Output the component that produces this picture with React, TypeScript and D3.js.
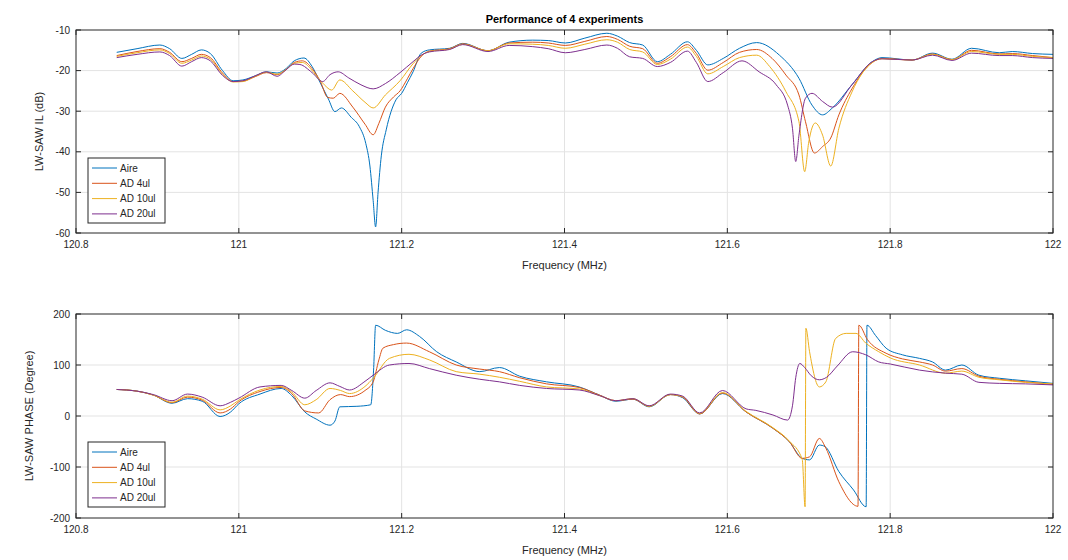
import React, { useRef, useEffect } from "react";
import * as d3 from "d3";

// series names + colours (matlab default order)
const seriesNames = ["Aire", "AD 4ul", "AD 10ul", "AD 20ul"];
const seriesColors = ["#0072BD", "#D95319", "#EDB120", "#7E2F8E"];

const xTicks = [120.8, 121, 121.2, 121.4, 121.6, 121.8, 122];
const ilTicks = [-60, -50, -40, -30, -20, -10];
const phaseTicks = [-200, -100, 0, 100, 200];

// insertion loss (dB), [freq MHz, value]
const ilAire = [
  [120.85, -15.5], [120.875, -14.6], [120.903, -13.7], [120.915, -14.6], [120.93, -17], [120.942, -16],
  [120.954, -14.9], [120.965, -15.8], [120.98, -20], [120.993, -22.5], [121.005, -22.3], [121.02, -21.3],
  [121.034, -20.3], [121.047, -20.6], [121.058, -19.5], [121.068, -17.6], [121.08, -16.9], [121.09, -19],
  [121.1, -23], [121.11, -27], [121.118, -30.1], [121.126, -29.2], [121.138, -31.5], [121.148, -33.8],
  [121.156, -38], [121.161, -43.5], [121.165, -52], [121.168, -58.5], [121.171, -50], [121.175, -41],
  [121.181, -34.6], [121.193, -27.2], [121.2, -25.6], [121.207, -23], [121.214, -20.3], [121.224, -15.7],
  [121.234, -14.9], [121.259, -14.5], [121.275, -13.3], [121.306, -15.1], [121.332, -13], [121.361, -12.5],
  [121.38, -12.6], [121.401, -13.2], [121.425, -12], [121.452, -10.8], [121.465, -11.5], [121.48, -13.1],
  [121.496, -13.7], [121.514, -17.8], [121.53, -16], [121.551, -12.9], [121.562, -15], [121.576, -18.6],
  [121.595, -17], [121.615, -14.5], [121.636, -13.1], [121.664, -16.2], [121.688, -21.9], [121.704, -28.5],
  [121.717, -30.9], [121.729, -29.2], [121.753, -23.5], [121.778, -17.8], [121.79, -16.8], [121.827, -17.4],
  [121.852, -15.7], [121.876, -17.2], [121.9, -14.5], [121.934, -15.6], [121.95, -15.3], [121.975, -15.8],
  [122, -16],
];
const ilAd4 = [
  [120.85, -16.3], [120.875, -15.3], [120.903, -14.6], [120.915, -15.5], [120.93, -17.8], [120.942, -17],
  [120.954, -16], [120.965, -16.8], [120.98, -20.6], [120.993, -22.7], [121.005, -22.6], [121.02, -21.5],
  [121.034, -20.5], [121.047, -21], [121.058, -19.8], [121.068, -18], [121.078, -17.6], [121.09, -19.5],
  [121.1, -22.6], [121.109, -26.6], [121.116, -26.8], [121.124, -25.6], [121.14, -29], [121.155, -33.2],
  [121.165, -35.8], [121.172, -33], [121.18, -29], [121.19, -26.5], [121.198, -25], [121.207, -22],
  [121.214, -19.5], [121.224, -16.5], [121.234, -15.2], [121.259, -14.6], [121.275, -13.4], [121.306, -15.1],
  [121.332, -13.2], [121.361, -13], [121.38, -13.2], [121.401, -13.8], [121.425, -12.8], [121.452, -11.6],
  [121.465, -12.3], [121.48, -14], [121.496, -14.6], [121.514, -18.2], [121.53, -16.6], [121.551, -13.6],
  [121.562, -15.8], [121.576, -19.9], [121.595, -18], [121.615, -15.5], [121.636, -14.8], [121.655, -17],
  [121.672, -21.1], [121.688, -26], [121.696, -32.6], [121.707, -40.3], [121.717, -38.7], [121.727, -36.6],
  [121.737, -30.9], [121.753, -24.5], [121.778, -18], [121.79, -17], [121.827, -17.4], [121.852, -15.9],
  [121.876, -17.3], [121.9, -15], [121.934, -15.9], [121.95, -15.8], [121.975, -16.3], [122, -16.8],
];
const ilAd10 = [
  [120.85, -16.5], [120.875, -15.6], [120.903, -14.9], [120.915, -15.8], [120.93, -18.2], [120.942, -17.4],
  [120.954, -16.4], [120.965, -17.2], [120.98, -20.9], [120.993, -22.8], [121.005, -22.7], [121.02, -21.4],
  [121.034, -20.4], [121.047, -20.9], [121.058, -19.7], [121.068, -18.2], [121.078, -18], [121.088, -19.5],
  [121.096, -21.5], [121.105, -23.5], [121.114, -24.8], [121.124, -22.3], [121.14, -25], [121.155, -27.8],
  [121.165, -29.2], [121.18, -26], [121.198, -22.5], [121.214, -18.3], [121.224, -16.3], [121.234, -15.3],
  [121.259, -14.7], [121.275, -13.5], [121.306, -15.1], [121.332, -13.4], [121.361, -13.5], [121.38, -13.8],
  [121.401, -14.5], [121.425, -13.5], [121.452, -12.4], [121.465, -13], [121.48, -14.8], [121.496, -15.4],
  [121.514, -18.5], [121.53, -17.2], [121.551, -14.2], [121.562, -16.5], [121.576, -20.8], [121.595, -19],
  [121.615, -16.8], [121.636, -16.2], [121.652, -19], [121.672, -25.2], [121.688, -32.6], [121.695, -44.9],
  [121.7, -37.6], [121.708, -32.9], [121.717, -35.9], [121.727, -43.5], [121.737, -34.2], [121.753, -25.3],
  [121.778, -18], [121.79, -17.1], [121.827, -17.4], [121.852, -16], [121.876, -17.3], [121.9, -15.3],
  [121.934, -16], [121.95, -16], [121.975, -16.5], [122, -16.8],
];
const ilAd20 = [
  [120.85, -16.8], [120.875, -16], [120.903, -15.4], [120.915, -16.3], [120.93, -18.9], [120.942, -17.8],
  [120.954, -16.8], [120.965, -17.6], [120.98, -21.2], [120.993, -22.7], [121.005, -22.5], [121.02, -21.3],
  [121.034, -20.3], [121.047, -21.4], [121.058, -19.8], [121.068, -18.4], [121.075, -18.5], [121.09, -20.5],
  [121.103, -22.7], [121.112, -21], [121.122, -20.3], [121.135, -21.8], [121.15, -23.5], [121.165, -24.5],
  [121.18, -23.2], [121.198, -20.5], [121.214, -17.8], [121.224, -16.2], [121.234, -15.4], [121.259, -14.8],
  [121.275, -13.6], [121.306, -15.3], [121.332, -13.8], [121.361, -14.1], [121.38, -14.6], [121.401, -15.6],
  [121.425, -14.8], [121.452, -13.7], [121.465, -14.5], [121.48, -16.6], [121.496, -17], [121.514, -19],
  [121.53, -18], [121.551, -15.2], [121.562, -18], [121.576, -22.7], [121.595, -20.5], [121.618, -17.6],
  [121.639, -20.3], [121.66, -23.5], [121.674, -28.5], [121.68, -34.2], [121.684, -42.4], [121.688, -35.9],
  [121.696, -26.8], [121.704, -25.6], [121.717, -27.6], [121.729, -29], [121.753, -23.5], [121.778, -17.8],
  [121.79, -17.1], [121.827, -17.4], [121.852, -16.2], [121.876, -17.5], [121.9, -15.7], [121.934, -16.3],
  [121.95, -16.3], [121.975, -16.8], [122, -17],
];

// phase (degree), [freq MHz, value]
const phAire = [
  [120.85, 52], [120.874, 49], [120.895, 41], [120.918, 25], [120.937, 34], [120.955, 29], [120.977, -1],
  [120.99, 8], [121.0, 24], [121.026, 43], [121.052, 54], [121.065, 40], [121.081, 8], [121.095, -6],
  [121.112, -18], [121.118, -10], [121.124, 18], [121.145, 19], [121.162, 22], [121.1655, 90], [121.168, 178],
  [121.18, 168], [121.195, 162], [121.206, 169], [121.222, 156], [121.243, 126], [121.267, 106], [121.296, 87],
  [121.32, 95], [121.345, 78], [121.378, 67], [121.418, 57], [121.443, 41], [121.463, 29], [121.484, 33],
  [121.504, 18], [121.53, 42], [121.545, 36], [121.566, 4], [121.594, 44], [121.623, 8], [121.656, -24],
  [121.676, -50], [121.692, -83], [121.701, -86], [121.713, -57], [121.72, -60], [121.737, -109], [121.755, -145],
  [121.7705, -178], [121.7715, 178], [121.782, 158], [121.795, 133], [121.815, 120], [121.836, 113], [121.852, 106],
  [121.868, 90], [121.888, 100], [121.909, 80], [121.934, 74], [121.966, 69], [122, 64],
];
const phAd4 = [
  [120.85, 52], [120.874, 49], [120.895, 41], [120.918, 26], [120.937, 37], [120.955, 31], [120.977, 6],
  [120.99, 14], [121.0, 28], [121.026, 48], [121.052, 56], [121.065, 44], [121.081, 10], [121.098, 6],
  [121.112, 32], [121.125, 42], [121.136, 38], [121.155, 50], [121.165, 67], [121.172, 110], [121.177, 133],
  [121.19, 140], [121.206, 143], [121.234, 126], [121.267, 100], [121.296, 92], [121.32, 87], [121.345, 75],
  [121.378, 63], [121.418, 56], [121.443, 41], [121.463, 30], [121.484, 33], [121.504, 19], [121.53, 42],
  [121.545, 37], [121.566, 4], [121.594, 45], [121.623, 8], [121.656, -24], [121.676, -50], [121.692, -83],
  [121.701, -80], [121.713, -44], [121.721, -63], [121.737, -129], [121.7605, -177], [121.7615, 178],
  [121.772, 150], [121.795, 123], [121.815, 112], [121.836, 106], [121.852, 100], [121.868, 88], [121.888, 93],
  [121.909, 78], [121.934, 72], [121.966, 67], [122, 62],
];
const phAd10 = [
  [120.85, 52], [120.874, 49], [120.895, 41], [120.918, 27], [120.937, 39], [120.955, 33], [120.977, 12],
  [120.99, 20], [121.0, 31], [121.026, 51], [121.052, 58], [121.065, 47], [121.081, 22], [121.095, 32],
  [121.112, 54], [121.125, 50], [121.136, 44], [121.155, 58], [121.165, 74], [121.185, 113], [121.209, 121],
  [121.234, 110], [121.267, 87], [121.296, 82], [121.32, 76], [121.345, 68], [121.378, 57], [121.418, 53],
  [121.443, 40], [121.463, 30], [121.484, 34], [121.504, 19], [121.53, 42], [121.545, 38], [121.566, 5],
  [121.594, 46], [121.623, 9], [121.656, -23], [121.676, -49], [121.692, -85], [121.6955, -178], [121.6965, 172],
  [121.701, 126], [121.713, 57], [121.721, 67], [121.733, 152], [121.746, 162], [121.758, 162], [121.77, 143],
  [121.786, 126], [121.8, 114], [121.836, 100], [121.868, 84], [121.888, 88], [121.909, 76], [121.934, 71],
  [121.966, 66], [122, 63],
];
const phAd20 = [
  [120.85, 52], [120.874, 49], [120.895, 42], [120.918, 30], [120.937, 43], [120.955, 37], [120.977, 20],
  [120.99, 27], [121.0, 35], [121.026, 57], [121.052, 60], [121.065, 50], [121.081, 35], [121.095, 50],
  [121.112, 65], [121.124, 58], [121.136, 51], [121.155, 68], [121.165, 80], [121.185, 100], [121.209, 103],
  [121.234, 93], [121.267, 80], [121.296, 72], [121.32, 67], [121.345, 60], [121.378, 54], [121.418, 51],
  [121.443, 40], [121.463, 30], [121.484, 34], [121.504, 20], [121.53, 43], [121.545, 39], [121.566, 6],
  [121.594, 50], [121.623, 14], [121.635, 11], [121.656, 2], [121.674, -8], [121.68, 20], [121.684, 75],
  [121.689, 103], [121.695, 95], [121.703, 79], [121.713, 71], [121.722, 76], [121.735, 98], [121.754, 126],
  [121.77, 120], [121.786, 106], [121.8, 102], [121.836, 90], [121.868, 84], [121.888, 82], [121.909, 66],
  [121.934, 64], [121.966, 63], [122, 61],
];

const W = 1068;
const H = 560;
const FONT = "'Liberation Sans', Arial, sans-serif";

const App = () => {
  const svgRef = useRef(null);

  useEffect(() => {
    const svg = d3.select(svgRef.current);
    svg.selectAll("*").remove();

    const x = d3.scaleLinear().domain([120.8, 122]).range([76, 1053]);

    const panels = [
      {
        id: "il",
        y: d3.scaleLinear().domain([-60, -10]).range([233, 30]),
        ticks: ilTicks,
        data: [ilAire, ilAd4, ilAd10, ilAd20],
        ylabel: "LW-SAW IL (dB)",
        ylabelX: 43,
        legendTop: 158,
      },
      {
        id: "ph",
        y: d3.scaleLinear().domain([-200, 200]).range([518, 314]),
        ticks: phaseTicks,
        data: [phAire, phAd4, phAd10, phAd20],
        ylabel: "LW-SAW PHASE (Degree)",
        ylabelX: 33,
        legendTop: 442,
      },
    ];

    const x0 = x.range()[0];
    const x1 = x.range()[1];

    panels.forEach((p) => {
      const [yb, yt] = p.y.range();
      const g = svg.append("g");

      g.append("rect")
        .attr("x", x0)
        .attr("y", yt)
        .attr("width", x1 - x0)
        .attr("height", yb - yt)
        .attr("fill", "#fff");

      // grid
      g.append("g")
        .selectAll("line")
        .data(xTicks.slice(1, -1))
        .enter()
        .append("line")
        .attr("x1", (d) => x(d))
        .attr("x2", (d) => x(d))
        .attr("y1", yt)
        .attr("y2", yb)
        .attr("stroke", "#e3e3e3")
        .attr("stroke-width", 1);
      g.append("g")
        .selectAll("line")
        .data(p.ticks.slice(1, -1))
        .enter()
        .append("line")
        .attr("x1", x0)
        .attr("x2", x1)
        .attr("y1", (d) => p.y(d))
        .attr("y2", (d) => p.y(d))
        .attr("stroke", "#e3e3e3")
        .attr("stroke-width", 1);

      // clip
      svg
        .append("clipPath")
        .attr("id", "clip-" + p.id)
        .append("rect")
        .attr("x", x0)
        .attr("y", yt)
        .attr("width", x1 - x0)
        .attr("height", yb - yt);

      const line = d3
        .line()
        .x((d) => x(d[0]))
        .y((d) => p.y(d[1]))
        .curve(d3.curveMonotoneX);

      g.append("g")
        .attr("clip-path", `url(#clip-${p.id})`)
        .selectAll("path")
        .data(p.data)
        .enter()
        .append("path")
        .attr("d", (d) => line(d))
        .attr("fill", "none")
        .attr("stroke", (_, i) => seriesColors[i])
        .attr("stroke-width", 1)
        .attr("stroke-linejoin", "round");

      // box
      g.append("rect")
        .attr("x", x0)
        .attr("y", yt)
        .attr("width", x1 - x0)
        .attr("height", yb - yt)
        .attr("fill", "none")
        .attr("stroke", "#262626")
        .attr("stroke-width", 1);

      // inward ticks, all four sides
      const tk = 5;
      xTicks.forEach((t) => {
        g.append("line").attr("x1", x(t)).attr("x2", x(t)).attr("y1", yb).attr("y2", yb - tk).attr("stroke", "#262626");
        g.append("line").attr("x1", x(t)).attr("x2", x(t)).attr("y1", yt).attr("y2", yt + tk).attr("stroke", "#262626");
        g.append("text")
          .attr("x", x(t))
          .attr("y", yb + 15)
          .attr("text-anchor", "middle")
          .attr("font-family", FONT)
          .attr("font-size", 10)
          .attr("fill", "#262626")
          .text(+t.toFixed(1) + "");
      });
      p.ticks.forEach((t) => {
        g.append("line").attr("x1", x0).attr("x2", x0 + tk).attr("y1", p.y(t)).attr("y2", p.y(t)).attr("stroke", "#262626");
        g.append("line").attr("x1", x1).attr("x2", x1 - tk).attr("y1", p.y(t)).attr("y2", p.y(t)).attr("stroke", "#262626");
        g.append("text")
          .attr("x", x0 - 6)
          .attr("y", p.y(t) + 3.5)
          .attr("text-anchor", "end")
          .attr("font-family", FONT)
          .attr("font-size", 10)
          .attr("fill", "#262626")
          .text(t);
      });

      // axis labels
      g.append("text")
        .attr("x", (x0 + x1) / 2)
        .attr("y", yb + 36)
        .attr("text-anchor", "middle")
        .attr("font-family", FONT)
        .attr("font-size", 11)
        .attr("fill", "#262626")
        .text("Frequency (MHz)");
      g.append("text")
        .attr("transform", `translate(${p.ylabelX},${(yt + yb) / 2}) rotate(-90)`)
        .attr("text-anchor", "middle")
        .attr("font-family", FONT)
        .attr("font-size", 11)
        .attr("fill", "#262626")
        .text(p.ylabel);

      // legend
      const lg = g.append("g").attr("transform", `translate(88,${p.legendTop})`);
      lg.append("rect")
        .attr("width", 77)
        .attr("height", 65)
        .attr("fill", "#fff")
        .attr("stroke", "#262626")
        .attr("stroke-width", 1);
      seriesNames.forEach((name, i) => {
        const yy = 10 + i * 15.3;
        lg.append("line")
          .attr("x1", 4)
          .attr("x2", 29)
          .attr("y1", yy)
          .attr("y2", yy)
          .attr("stroke", seriesColors[i])
          .attr("stroke-width", 1);
        lg.append("text")
          .attr("x", 32)
          .attr("y", yy + 3.5)
          .attr("font-family", FONT)
          .attr("font-size", 10)
          .attr("fill", "#262626")
          .text(name);
      });
    });

    svg
      .append("text")
      .attr("x", (x0 + x1) / 2)
      .attr("y", 23)
      .attr("text-anchor", "middle")
      .attr("font-family", FONT)
      .attr("font-size", 11)
      .attr("font-weight", "bold")
      .attr("fill", "#000")
      .text("Performance of 4 experiments");
  }, []);

  return (
    <div style={{ position: "absolute", left: 0, top: 0 }}>
      <svg ref={svgRef} width={W} height={H} style={{ display: "block", background: "#fff" }}></svg>
    </div>
  );
};

export default App;
